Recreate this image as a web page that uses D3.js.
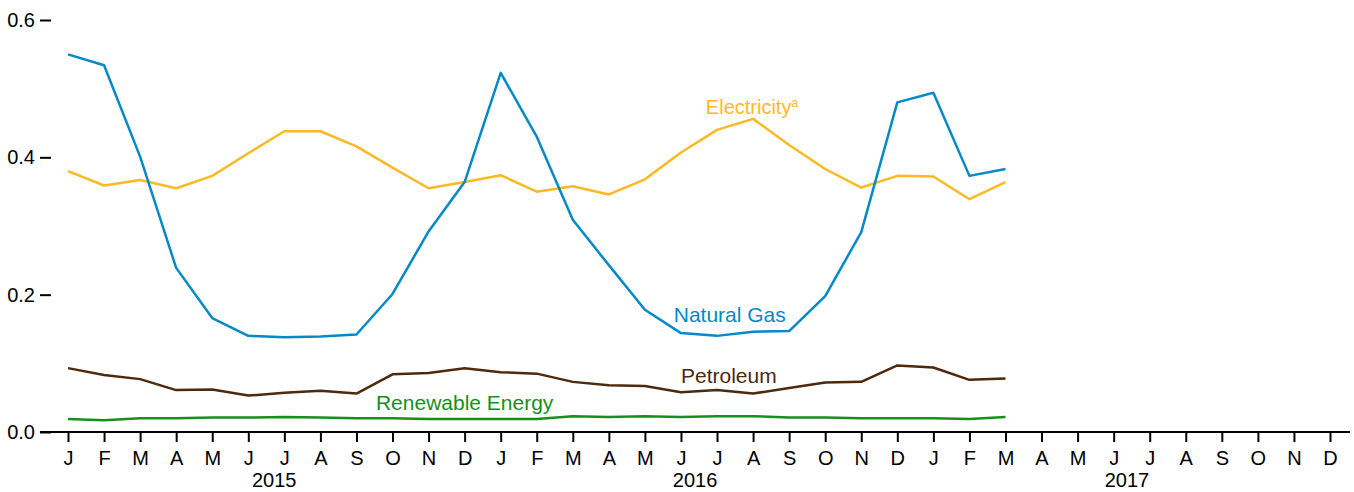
<!DOCTYPE html>
<html>
<head>
<meta charset="utf-8">
<script src="https://cdn.jsdelivr.net/npm/d3@7"></script>
<style>
  body { margin: 0; background: #fff; }
  svg text { font-family: "Liberation Sans", Arial, sans-serif; }
</style>
</head>
<body>
<svg id="chart" width="1354" height="492"></svg>
<script>
const svgWidth = 1354;
const svgHeight = 492;

// month labels across three years, Jan 2015 .. Dec 2017
const monthLetters = ["J","F","M","A","M","J","J","A","S","O","N","D"];
const years = ["2015", "2016", "2017"];
const yTicks = [0, 0.2, 0.4, 0.6];

// monthly values, Jan 2015 .. Mar 2017
const naturalGas = [0.550, 0.534, 0.401, 0.239, 0.166, 0.140, 0.138, 0.139, 0.142, 0.201, 0.292, 0.364,
                    0.523, 0.430, 0.309, 0.243, 0.178, 0.144, 0.140, 0.146, 0.147, 0.198, 0.291, 0.480,
                    0.494, 0.373, 0.383];
const electricity = [0.380, 0.359, 0.367, 0.355, 0.373, 0.406, 0.438, 0.438, 0.416, 0.385, 0.355, 0.364,
                     0.374, 0.350, 0.358, 0.346, 0.368, 0.407, 0.440, 0.456, 0.418, 0.383, 0.356, 0.373,
                     0.372, 0.339, 0.364];
const petroleum = [0.093, 0.083, 0.077, 0.061, 0.062, 0.053, 0.057, 0.060, 0.056, 0.084, 0.086, 0.093,
                   0.087, 0.085, 0.073, 0.068, 0.067, 0.058, 0.061, 0.056, 0.064, 0.072, 0.073, 0.097,
                   0.094, 0.076, 0.078];
const renewable = [0.019, 0.017, 0.020, 0.020, 0.021, 0.021, 0.022, 0.021, 0.020, 0.020, 0.019, 0.019,
                   0.019, 0.019, 0.023, 0.022, 0.023, 0.022, 0.023, 0.023, 0.021, 0.021, 0.020, 0.020,
                   0.020, 0.019, 0.022];

const allMonths = d3.range(years.length * 12);

const xScale = d3.scaleLinear()
    .domain([0, allMonths.length - 1])
    .range([68, 1330]);

const yScale = d3.scaleLinear()
    .domain([0, 0.6])
    .range([432, 20]);

const svg = d3.select("#chart");

// y axis: ticks only, no spine
const yAxis = svg.append("g")
    .attr("transform", "translate(51,0)")
    .call(d3.axisLeft(yScale).tickValues(yTicks).tickFormat(d3.format(".1f")).tickSize(11).tickPadding(5));
yAxis.select(".domain").remove();
yAxis.selectAll("line").attr("stroke", "#000").attr("stroke-width", 2);
yAxis.selectAll("text").attr("font-size", 20).attr("fill", "#000")
    .style("font-family", "'Liberation Sans', Arial, sans-serif");

// x axis
const xAxis = svg.append("g")
    .attr("transform", "translate(0,432)")
    .call(d3.axisBottom(xScale).tickValues(allMonths)
        .tickFormat(i => monthLetters[i % 12]).tickSize(10).tickPadding(9));
xAxis.select(".domain").remove();
xAxis.selectAll("line").attr("stroke", "#000").attr("stroke-width", 2);
xAxis.selectAll("text").attr("font-size", 20).attr("fill", "#000")
    .style("font-family", "'Liberation Sans', Arial, sans-serif");

svg.append("line")
    .attr("x1", 40).attr("x2", 1350)
    .attr("y1", yScale(0)).attr("y2", yScale(0))
    .attr("stroke", "#000")
    .attr("stroke-width", 2);

// year labels sit roughly mid-year (slightly uneven in the original)
const yearOffset = [5.72, 5.39, 5.37];
svg.selectAll(".year")
    .data(years)
    .enter().append("text")
    .attr("class", "year")
    .attr("x", (d, i) => xScale(i * 12 + yearOffset[i]))
    .attr("y", 487)
    .attr("text-anchor", "middle")
    .attr("font-size", 20)
    .text(d => d);

// series
const series = [
    { name: "Electricity", values: electricity, color: "#FDB924" },
    { name: "Natural Gas", values: naturalGas, color: "#0589C7" },
    { name: "Petroleum", values: petroleum, color: "#4B2A0E" },
    { name: "Renewable Energy", values: renewable, color: "#16901B" }
];

const line = d3.line()
    .x((d, i) => xScale(i))
    .y(d => yScale(d));

svg.selectAll(".series")
    .data(series)
    .enter().append("path")
    .attr("class", "series")
    .attr("d", d => line(d.values))
    .attr("fill", "none")
    .attr("stroke", d => d.color)
    .attr("stroke-width", 2.5)
    .attr("stroke-linejoin", "round");

// direct labels
const elecLabel = svg.append("text")
    .attr("x", xScale(17.69))
    .attr("y", yScale(0.463))
    .attr("font-size", 20)
    .attr("fill", series[0].color)
    .text("Electricity");
elecLabel.append("tspan")
    .attr("dy", -7)
    .attr("font-size", 12)
    .text("a");

svg.append("text")
    .attr("x", xScale(16.8))
    .attr("y", yScale(0.160))
    .attr("font-size", 21)
    .attr("fill", series[1].color)
    .text("Natural Gas");

svg.append("text")
    .attr("x", xScale(17.0))
    .attr("y", yScale(0.071))
    .attr("font-size", 21)
    .attr("fill", series[2].color)
    .text("Petroleum");

svg.append("text")
    .attr("x", xScale(8.54))
    .attr("y", yScale(0.032))
    .attr("font-size", 21)
    .attr("fill", series[3].color)
    .text("Renewable Energy");
</script>
</body>
</html>
